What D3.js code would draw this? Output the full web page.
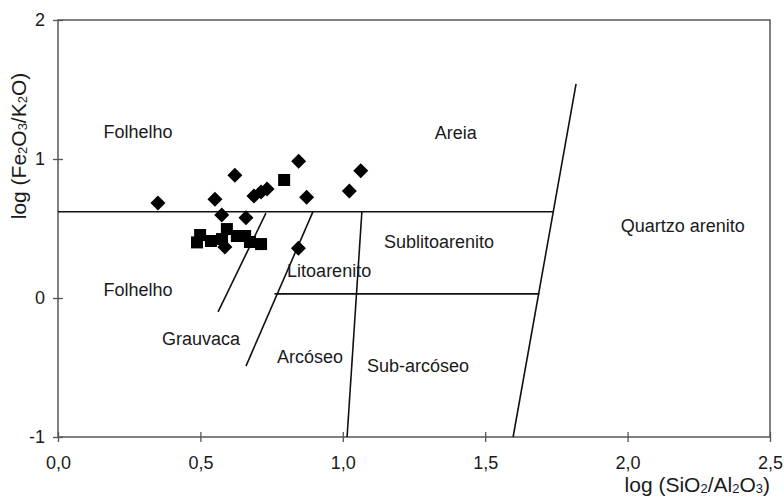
<!DOCTYPE html>
<html>
<head>
<meta charset="utf-8">
<script src="https://cdn.jsdelivr.net/npm/d3@7"></script>
<style>
  body { margin: 0; background: #fff; }
  text { font-family: "Liberation Sans", Arial, sans-serif; fill: #1a1a1a; }
</style>
</head>
<body>
<div id="chart"></div>
<script>
// samples: log(SiO2/Al2O3), log(Fe2O3/K2O)
const diamonds = [
  [0.351, 0.683], [0.551, 0.71], [0.621, 0.883], [0.845, 0.983],
  [0.873, 0.724], [1.023, 0.77], [1.063, 0.916], [0.844, 0.358],
  [0.575, 0.597], [0.66, 0.578], [0.688, 0.734], [0.713, 0.763],
  [0.734, 0.784], [0.586, 0.367]
];
const squares = [
  [0.488, 0.40], [0.499, 0.453], [0.537, 0.41], [0.576, 0.424],
  [0.593, 0.496], [0.628, 0.446], [0.657, 0.446], [0.674, 0.403],
  [0.713, 0.388], [0.794, 0.849]
];

// field boundaries
const boundaries = [
  [[0, 0.62], [1.738, 0.62]],
  [[0.76, 0.03], [1.69, 0.03]],
  [[0.73, 0.61], [0.562, -0.10]],
  [[0.895, 0.62], [0.66, -0.49]],
  [[1.067, 0.62], [1.015, -1]],
  [[1.598, -1], [1.819, 1.54]]
];

const fieldNames = ["Folhelho", "Areia", "Folhelho", "Sublitoarenito", "Quartzo arenito",
  "Litoarenito", "Grauvaca", "Arcóseo", "Sub-arcóseo"];
const fieldAt = [[0.281, 1.194], [1.397, 1.19], [0.281, 0.058], [1.338, 0.403], [2.194, 0.515],
  [0.952, 0.194], [0.502, -0.295], [0.885, -0.424], [1.264, -0.489]];

const xTicks = [0, 0.5, 1.0, 1.5, 2.0, 2.5];
const yTicks = [-1, 0, 1, 2];

const width = 784, height = 501;
const margin = {top: 20, right: 14, bottom: 64, left: 58};

const svg = d3.select("#chart").append("svg")
    .attr("width", width)
    .attr("height", height);

const x = d3.scaleLinear().domain([0, 2.5]).range([margin.left, width - margin.right]);
const y = d3.scaleLinear().domain([-1, 2]).range([height - margin.bottom, margin.top]);

const axisColor = "#555";
const fmt = d => d3.format(".1f")(d).replace(".", ",");

// frame
svg.append("rect")
    .attr("x", x(0)).attr("y", y(2))
    .attr("width", x(2.5) - x(0)).attr("height", y(-1) - y(2))
    .attr("fill", "none").attr("stroke", axisColor).attr("stroke-width", 1.5);

// x axis: minor ticks inside, majors crossing
const xAxis = svg.append("g").attr("transform", `translate(0,${y(-1)})`);
xAxis.call(d3.axisBottom(x).tickValues(d3.range(0, 2.51, 0.1)).tickSize(-4).tickFormat(""))
xAxis.call(d3.axisBottom(x).tickValues(xTicks).tickSize(5).tickPadding(14).tickFormat(fmt));
xAxis.selectAll(".tick line").attr("stroke", axisColor).attr("stroke-width", 1.3);
xAxis.selectAll(".domain").remove();
xAxis.selectAll(".tick").filter(d => xTicks.some(t => Math.abs(t - d) < 1e-6))
    .select("line").attr("y1", -5);
xAxis.selectAll("text").attr("font-size", 18);

const yAxis = svg.append("g").attr("transform", `translate(${x(0)},0)`);
yAxis.call(d3.axisLeft(y).tickValues(d3.range(-1, 2.01, 0.2)).tickSize(-4).tickFormat(""));
yAxis.call(d3.axisLeft(y).tickValues(yTicks).tickSize(5).tickPadding(8).tickFormat(d => String(d)));
yAxis.selectAll(".tick line").attr("stroke", axisColor).attr("stroke-width", 1.3);
yAxis.selectAll(".domain").remove();
yAxis.selectAll(".tick").filter(d => yTicks.some(t => Math.abs(t - d) < 1e-6))
    .select("line").attr("x1", 5);
yAxis.selectAll("text").attr("font-size", 18);

// boundary lines
svg.append("g").selectAll("line")
    .data(boundaries)
    .join("line")
    .attr("x1", d => x(d[0][0])).attr("y1", d => y(d[0][1]))
    .attr("x2", d => x(d[1][0])).attr("y2", d => y(d[1][1]))
    .attr("stroke", "#111").attr("stroke-width", 1.6);

// field names
svg.append("g").selectAll("text")
    .data(fieldNames)
    .join("text")
    .attr("x", (d, i) => x(fieldAt[i][0]))
    .attr("y", (d, i) => y(fieldAt[i][1]))
    .attr("text-anchor", "middle")
    .attr("dominant-baseline", "central")
    .attr("font-size", 18)
    .text(d => d);

// points
svg.append("g").selectAll("rect")
    .data(squares)
    .join("rect")
    .attr("x", d => x(d[0]) - 6).attr("y", d => y(d[1]) - 6)
    .attr("width", 12).attr("height", 12)
    .attr("fill", "#000");

svg.append("g").selectAll("rect")
    .data(diamonds)
    .join("rect")
    .attr("x", -5.3).attr("y", -5.3)
    .attr("width", 10.6).attr("height", 10.6)
    .attr("transform", d => `translate(${x(d[0])},${y(d[1])}) rotate(45)`)
    .attr("fill", "#000");

// axis titles with subscripts
function subTitle(sel, parts) {
  parts.forEach(([t, sub]) => {
    sel.append("tspan")
        .attr("font-size", sub ? 13 : 21)
        .attr("dy", sub ? 4 : (sel.selectAll("tspan").size() ? -4 : 0))
        .text(t);
  });
}

const yt = svg.append("text")
    .attr("transform", `translate(22,146) rotate(-90)`)
    .attr("text-anchor", "middle")
    .attr("dominant-baseline", "central");
subTitle(yt, [["log (Fe", 0], ["2", 1], ["O", 0], ["3", 1], ["/K", 0], ["2", 1], ["O)", 0]]);

const xt = svg.append("text")
    .attr("x", x(2.5)).attr("y", 488)
    .attr("text-anchor", "end")
    .attr("dominant-baseline", "central");
subTitle(xt, [["log (SiO", 0], ["2", 1], ["/Al", 0], ["2", 1], ["O", 0], ["3", 1], [")", 0]]);
</script>
</body>
</html>
